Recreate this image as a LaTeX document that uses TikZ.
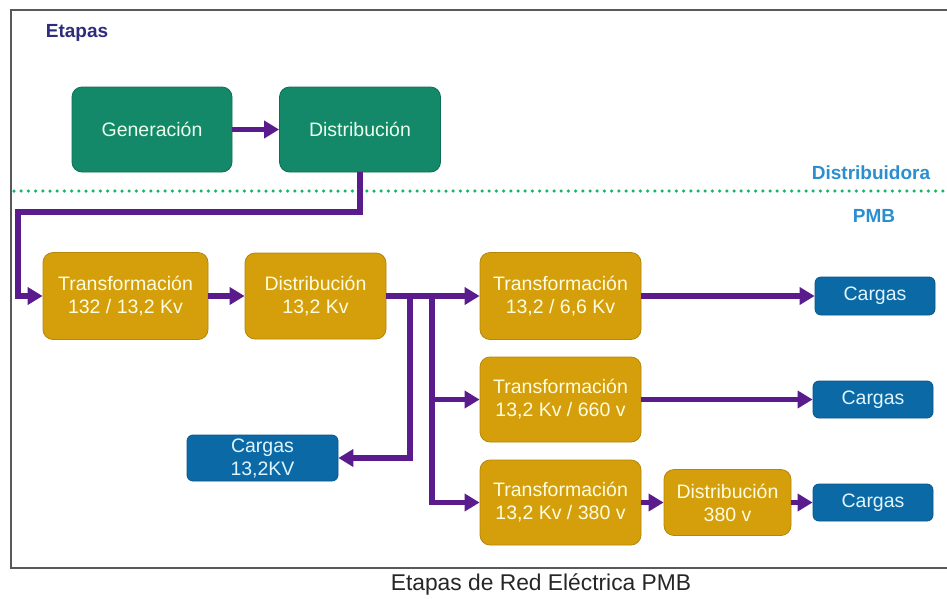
\documentclass[tikz,border=0pt]{standalone}
\usepackage{fontspec}
\setmainfont{Liberation Sans}
\usetikzlibrary{arrows.meta,calc}
\definecolor{gbox}{HTML}{13896A}
\definecolor{gline}{HTML}{0E6E55}
\definecolor{gold}{HTML}{D49F0A}
\definecolor{goldline}{HTML}{B5860A}
\definecolor{bbox}{HTML}{0B69A6}
\definecolor{bline}{HTML}{0A5688}
\definecolor{purp}{HTML}{5A1C8C}
\definecolor{navy}{HTML}{2E2C7E}
\definecolor{sky}{HTML}{2B8FCF}
\definecolor{dotg}{HTML}{16B36A}
\begin{document}
\begin{tikzpicture}[x=1pt,y=-1pt,
  every node/.style={font=\fontsize{19.5}{23}\selectfont, align=center, inner sep=0pt},
  greenbox/.style={draw=gline, fill=gbox, text=white!92!green, rounded corners=10pt, line width=0.8pt},
  goldbox/.style={draw=goldline, fill=gold, text=white!88!yellow, rounded corners=10pt, line width=0.8pt},
  bluebox/.style={draw=bline, fill=bbox, text=white!88!cyan, rounded corners=6pt, line width=0.8pt},
  conn/.style={draw=purp, line width=5.5pt, -{Triangle[length=15pt,width=17pt]}},
  lbl/.style={font=\fontsize{19}{23}\selectfont\bfseries}]
\useasboundingbox (0,0) rectangle (947,598);
\fill[white] (0,0) rectangle (947,598);
\draw[gray!70!black, line width=1.5pt] (11,10) rectangle (955,568);
% labels
\node[lbl, text=navy] (etapas) at (77,33) {Etapas};
\node[lbl, text=sky] (distribuidora) at (871,173) {Distribuidora};
\node[lbl, text=sky] (pmb) at (874,216) {PMB};
\draw[dotg, line width=3.5pt, line cap=round, dash pattern=on 0pt off 7.2pt] (14,191) -- (947,191);
% boxes
\node[greenbox, minimum width=160pt, minimum height=85pt] (gen) at (152,129.5) {Generación};
\node[greenbox, minimum width=161pt, minimum height=85pt] (dista) at (360,129.5) {Distribución};
\node[goldbox, minimum width=165pt, minimum height=87pt] (t1) at (125.5,296) {Transformación\\132 / 13,2 Kv};
\node[goldbox, minimum width=141pt, minimum height=86pt] (d1) at (315.5,296) {Distribución\\13,2 Kv};
\node[goldbox, minimum width=161pt, minimum height=87pt] (t2a) at (560.5,296) {Transformación\\13,2 / 6,6 Kv};
\node[goldbox, minimum width=161pt, minimum height=85pt] (t2b) at (560.5,399.5) {Transformación\\13,2 Kv / 660 v};
\node[goldbox, minimum width=161pt, minimum height=85pt] (t2c) at (560.5,502.5) {Transformación\\13,2 Kv / 380 v};
\node[goldbox, minimum width=127pt, minimum height=66pt] (d380) at (727.5,502.5) {Distribución\\380 v};
\node[bluebox, minimum width=120pt, minimum height=38pt] (c1) at (875,296) {Cargas};
\node[bluebox, minimum width=120pt, minimum height=37pt] (c2) at (873,399.5) {Cargas};
\node[bluebox, minimum width=120pt, minimum height=37pt] (c3) at (873,502.5) {Cargas};
\node[bluebox, minimum width=151pt, minimum height=46pt] (c13) at (262.5,458) {Cargas\\13,2KV};
% connector corners
\coordinate (k1) at (360,212);
\coordinate (k2) at (18,212);
\coordinate (b1) at (410,296);
\coordinate (b2) at (432,296);
% connectors
\draw[conn] (gen.east) -- (dista.west);
\draw[conn] (dista.south) -- (k1) -- (k2) |- (t1.west);
\draw[conn] (t1.east) -- (d1.west);
\draw[conn] (d1.east) -- (t2a.west);
\draw[conn] (b1) |- (c13.east);
\draw[conn] (b2) |- (t2c.west);
\draw[conn] (b2) |- (t2b.west);
\draw[conn] (t2a.east) -- (c1.west);
\draw[conn] (t2b.east) -- (c2.west);
\draw[conn] (t2c.east) -- (d380.west);
\draw[conn] (d380.east) -- (c3.west);
% caption
\node[font=\fontsize{22.8}{26}\selectfont, text=black!85] (caption) at (541,584) {Etapas de Red Eléctrica PMB};
\end{tikzpicture}
\end{document}
